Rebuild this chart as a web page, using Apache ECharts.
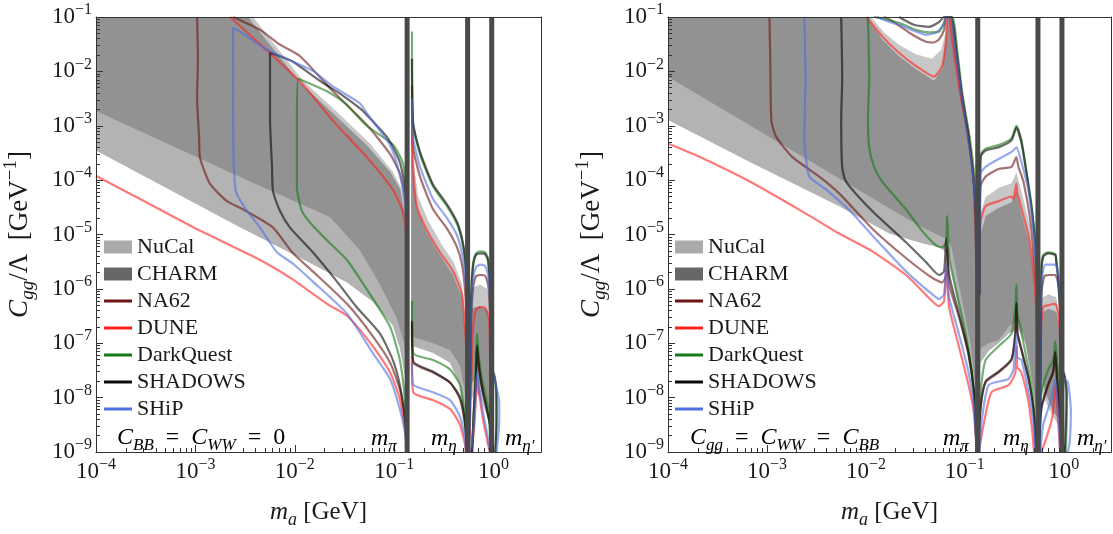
<!DOCTYPE html>
<html><head><meta charset="utf-8">
<script src="https://cdn.jsdelivr.net/npm/echarts@6/dist/echarts.min.js"></script>
<style>html,body{margin:0;padding:0;background:#fff}#c{width:1113px;height:534px}</style>
</head><body><div id="c"></div>
<script>
// ---------- tick values ----------
const X_MAJOR = [1e-4, 1e-3, 1e-2, 1e-1, 1];
const Y_MAJOR = [1e-9, 1e-8, 1e-7, 1e-6, 1e-5, 1e-4, 1e-3, 1e-2, 1e-1];
const MESON_MASSES = [0.135, 0.548, 0.958];
const MESON_LABELS = ['π', 'η', 'η′'];
const NAMES = ['NuCal', 'CHARM', 'NA62', 'DUNE', 'DarkQuest', 'SHADOWS', 'SHiP'];

// ---------- LEFT PANEL (C_BB = C_WW = 0) ----------
const NUCAL_L = [
 [[1e-4,0.1],[3.38e-3,0.1],[1.13e-2,6.2e-3],[2.42e-2,1.7e-3],[5.3e-2,4.4e-4],[9.1e-2,1.42e-4],[0.114,7.0e-5],[0.126,2.7e-5],[0.132,6.3e-6],[0.135,8.0e-7],[0.135,1.26e-8],[0.126,2.9e-8],[0.114,8.1e-8],[9.7e-2,2.1e-7],[6.1e-2,5.8e-7],[3.35e-2,1.31e-6],[1.52e-2,2.8e-6],[2.62e-3,1.45e-5],[1e-4,3.5e-4]],
 [[0.148,1.39e-3],[0.155,1.42e-4],[0.169,2.9e-5],[0.214,1.04e-5],[0.289,4.2e-6],[0.391,1.8e-6],[0.481,7.0e-7],[0.515,1.8e-7],[0.54,4.4e-8],[0.54,2.4e-9],[0.515,4.1e-9],[0.459,1.7e-8],[0.364,4.4e-8],[0.246,6.6e-8],[0.155,8.8e-8],[0.148,8.8e-8]],
 [[0.579,3.5e-7],[0.62,4.5e-7],[0.73,4.8e-7],[0.86,4.1e-7],[0.92,2.3e-7],[0.94,5.5e-9],[0.88,6.7e-9],[0.78,1.26e-8],[0.681,2.3e-8],[0.607,1.9e-8],[0.579,1.26e-8]]
];
const CHARM_L = [
 [[1e-4,0.1],[3.8e-3,0.1],[1.21e-2,6.7e-3],[2.6e-2,1.86e-3],[5.7e-2,4.7e-4],[9.7e-2,1.42e-4],[0.123,6.2e-5],[0.132,1.45e-5],[0.138,8.0e-7],[0.135,2.9e-8],[0.126,1.0e-7],[0.107,2.8e-7],[7.2e-2,1.2e-6],[4.5e-2,5.2e-6],[2.26e-2,2.1e-5],[3.54e-3,9.4e-5],[1e-4,1.86e-3]],
 [[0.148,3.2e-3],[0.155,2.65e-4],[0.174,5.0e-5],[0.219,1.8e-5],[0.296,6.9e-6],[0.40,3.0e-6],[0.481,1.2e-6],[0.515,3.5e-7],[0.54,6.6e-8],[0.552,5.5e-9],[0.527,5.5e-9],[0.515,1.26e-8],[0.459,3.9e-8],[0.364,7.5e-8],[0.246,1.0e-7],[0.148,1.34e-7]],
 [[0.579,8.0e-7],[0.62,1.06e-6],[0.73,1.2e-6],[0.86,1.0e-6],[0.92,5.3e-7],[0.94,2.4e-9],[0.86,4.5e-9],[0.73,1.02e-8],[0.65,1.26e-8],[0.579,8.3e-9]]
];
const NA62_L = [
 [[1.04e-3,0.1],[1.06e-3,1.7e-2],[1.04e-3,3.2e-3],[1.09e-3,6.1e-4],[1.11e-3,2.65e-4],[1.40e-3,8.6e-5],[2.08e-3,4.1e-5],[3.01e-3,2.9e-5],[6.04e-3,1.34e-5],[9.6e-3,4.5e-6],[1.52e-2,2.1e-6],[3.35e-2,5.3e-7],[6.1e-2,1.34e-7],[9.1e-2,4.4e-8],[0.114,1.42e-8],[0.128,4.1e-9],[0.135,1e-9]],
 [[0.135,1e-9],[0.135,6.3e-6],[0.128,5.0e-5],[0.114,1.31e-4],[9.1e-2,3.0e-4],[5.3e-2,1.04e-3],[2.42e-2,4.3e-3],[1.13e-2,1.9e-2],[7.1e-3,3.1e-2],[4.47e-3,5.8e-2],[2.39e-3,0.1]],
 [[0.54,1e-9],[0.515,3.2e-9],[0.459,9.4e-9],[0.364,1.9e-8],[0.246,2.9e-8],[0.155,4.4e-8],[0.151,2.3e-7]],
 [[0.151,5.5e-3],[0.155,4.0e-4],[0.182,1.16e-4],[0.246,2.9e-5],[0.34,1.28e-5],[0.429,5.8e-6],[0.481,2.8e-6],[0.515,9.8e-7],[0.54,1.5e-7],[0.54,1e-9]],
 [[0.565,1e-9],[0.579,1.26e-8],[0.593,2.3e-7],[0.62,9.8e-7],[0.665,1.7e-6],[0.73,1.8e-6],[0.82,1.75e-6],[0.88,1.2e-6],[0.92,3.5e-7],[0.94,1.26e-8],[0.94,1e-9]],
 [[0.607,1e-9],[0.635,6.2e-9],[0.665,2.5e-8],[0.681,8.8e-8],[0.713,3.6e-8],[0.78,1.26e-8],[0.92,3.2e-9],[0.96,1e-9]]
];
const DUNE_L = [
 [[1e-4,1.2e-4],[3.5e-4,3.6e-5],[1.11e-3,1.18e-5],[4.47e-3,3.4e-6],[9.6e-3,1.48e-6],[2.11e-2,5.3e-7],[3.35e-2,3.2e-7],[6.1e-2,8.8e-8],[9.1e-2,2.9e-8],[0.114,9.4e-9],[0.128,2.7e-9],[0.135,1e-9]],
 [[0.135,1e-9],[0.135,6.3e-6],[0.123,2.5e-5],[9.7e-2,6.7e-5],[5.3e-2,2.65e-4],[2.42e-2,1.23e-3],[1.13e-2,6.5e-3],[2.23e-3,0.1]],
 [[0.527,1e-9],[0.515,1.39e-9],[0.459,3.2e-9],[0.364,6.2e-9],[0.246,9.0e-9],[0.155,1.26e-8],[0.151,5.8e-8]],
 [[0.151,2.1e-3],[0.155,1.75e-4],[0.169,3.3e-5],[0.214,1.18e-5],[0.289,4.7e-6],[0.391,2.1e-6],[0.481,8.0e-7],[0.515,2.0e-7],[0.54,4.9e-8],[0.54,1e-9]],
 [[0.565,1e-9],[0.593,1.26e-8],[0.62,1.86e-7],[0.665,4.1e-7],[0.73,4.6e-7],[0.82,4.5e-7],[0.90,2.8e-7],[0.92,6.6e-8],[0.94,5.5e-9],[0.94,1e-9]],
 [[0.593,1e-9],[0.635,2.4e-9],[0.665,1.02e-8],[0.681,2.2e-8],[0.713,1.26e-8],[0.78,4.1e-9],[0.88,1.39e-9],[0.92,1e-9]]
];
const SHIP_L = [
 [[0.135,1e-9],[0.128,2.4e-9],[0.114,6.2e-9],[9.1e-2,2.2e-8],[6.1e-2,6.6e-8],[3.35e-2,3.5e-7],[1.52e-2,1.36e-6],[9.6e-3,2.9e-6],[6.62e-3,4.7e-6],[4.47e-3,1.34e-5],[3.15e-3,3.1e-5],[2.56e-3,6.2e-5],[2.44e-3,1.75e-4],[2.39e-3,3.2e-3],[2.39e-3,6.3e-2],[2.81e-3,5.4e-2],[5.25e-3,2.5e-2],[9.6e-3,1.5e-2],[1.52e-2,1.02e-2],[2.42e-2,5.3e-3],[4.5e-2,2.6e-3],[5.3e-2,1.7e-3],[9.1e-2,4.4e-4],[0.114,1.26e-4],[0.128,3.8e-5],[0.135,6.3e-6],[0.135,1e-9]],
 [[0.527,1e-9],[0.515,1.79e-9],[0.459,4.5e-9],[0.364,9.0e-9],[0.246,1.26e-8],[0.155,1.75e-8],[0.151,4.4e-8]],
 [[0.151,3.2e-3],[0.155,6.1e-4],[0.182,1.75e-4],[0.246,4.5e-5],[0.34,2.0e-5],[0.429,9.6e-6],[0.481,4.5e-6],[0.515,1.8e-6],[0.54,3.5e-7],[0.54,1e-9]],
 [[0.565,1e-9],[0.579,1.26e-8],[0.593,3.5e-7],[0.62,1.48e-6],[0.665,2.5e-6],[0.73,2.8e-6],[0.82,2.65e-6],[0.88,1.8e-6],[0.92,5.3e-7],[0.94,1.26e-8],[0.94,1e-9]],
 [[0.593,1e-9],[0.635,3.6e-9],[0.665,1.55e-8],[0.681,2.9e-8],[0.713,1.55e-8],[0.78,5.5e-9],[0.88,1.79e-9],[0.92,1e-9]],
 [[0.96,2.0e-8],[0.985,2.9e-8],[1.07,1.55e-8],[1.14,8.3e-9],[1.14,3.6e-9],[1.10,1.58e-9],[1.07,1e-9]]
];
const SHADOWS_L = [
 [[0.135,1e-9],[0.128,4.1e-9],[0.114,1.7e-8],[9.7e-2,4.9e-8],[7.2e-2,1.5e-7],[4.2e-2,4.6e-7],[2.66e-2,1.36e-6],[1.52e-2,4.7e-6],[8.95e-3,1.34e-5],[7.1e-3,2.7e-5],[6.04e-3,6.2e-5],[5.9e-3,1.75e-4],[5.63e-3,1.39e-3],[5.63e-3,2.2e-2],[7.1e-3,1.9e-2],[9.6e-3,1.5e-2],[1.79e-2,6.7e-3],[2.85e-2,3.9e-3],[4.5e-2,2.1e-3],[5.3e-2,1.58e-3],[8.5e-2,6.1e-4],[0.114,2.15e-4],[0.132,5.0e-5],[0.135,6.3e-6],[0.135,1e-9]],
 [[0.54,1e-9],[0.515,3.6e-9],[0.459,1.02e-8],[0.364,1.9e-8],[0.246,3.0e-8],[0.155,4.7e-8],[0.151,2.6e-7]],
 [[0.151,1.7e-2],[0.155,1.13e-3],[0.182,3.3e-4],[0.246,8.3e-5],[0.34,3.6e-5],[0.429,1.7e-5],[0.481,8.5e-6],[0.515,3.9e-6],[0.54,8.0e-7],[0.54,1e-9]],
 [[0.565,1e-9],[0.579,1.26e-8],[0.593,5.3e-7],[0.62,2.5e-6],[0.665,4.2e-6],[0.73,4.5e-6],[0.82,4.36e-6],[0.88,3.27e-6],[0.92,8.0e-7],[0.94,1.26e-8],[0.94,1e-9]],
 [[0.607,1e-9],[0.635,6.4e-9],[0.665,2.6e-8],[0.681,9.2e-8],[0.713,3.7e-8],[0.78,1.3e-8],[0.92,3.3e-9],[0.96,1e-9]],
 [[0.96,2.5e-8],[1.0,2.9e-8],[1.07,1.26e-8],[1.07,3.2e-9],[1.04,1e-9]]
];
const DQ_L = [
 [[0.135,1e-9],[0.128,9.4e-9],[0.114,4.9e-8],[9.1e-2,2.0e-7],[5.7e-2,8.0e-7],[3.35e-2,3.4e-6],[2.26e-2,6.9e-6],[1.52e-2,1.45e-5],[1.18e-2,2.7e-5],[1.05e-2,7.6e-5],[1.05e-2,9.2e-4],[1.08e-2,7.3e-3],[2.11e-2,4.3e-3],[3.2e-2,2.6e-3],[5.3e-2,1.0e-3],[9.7e-2,4.5e-4],[0.123,2.0e-4],[0.132,5.0e-5],[0.135,6.3e-6],[0.135,1e-9]],
 [[0.54,1e-9],[0.515,4.1e-9],[0.459,1.7e-8],[0.364,3.3e-8],[0.246,4.9e-8],[0.155,6.6e-8],[0.151,6.0e-7]],
 [[0.151,5.4e-2],[0.155,1.04e-3],[0.182,3.0e-4],[0.246,7.6e-5],[0.34,3.3e-5],[0.429,1.55e-5],[0.481,7.8e-6],[0.515,3.4e-6],[0.54,8.0e-7],[0.54,1e-9]],
 [[0.565,1e-9],[0.579,1.26e-8],[0.593,6.0e-7],[0.62,2.8e-6],[0.665,4.5e-6],[0.73,4.9e-6],[0.82,4.7e-6],[0.88,3.6e-6],[0.92,9.0e-7],[0.94,1.4e-8],[0.94,1e-9]],
 [[0.607,1e-9],[0.635,5.5e-9],[0.665,4.4e-8],[0.681,1.5e-7],[0.713,5.4e-8],[0.764,2.2e-8],[0.88,6.2e-9],[0.94,1e-9]],
 [[0.96,2.7e-8],[0.985,2.9e-8],[1.05,1.7e-8],[1.07,5e-9],[1.05,1e-9]]
];

// ---------- RIGHT PANEL (C_gg = C_WW = C_BB) ----------
const NUCAL_R = [
 [[1e-4,0.1],[1.02e-2,0.1],[1.46e-2,3.9e-2],[2.16e-2,1.9e-2],[3.2e-2,1.1e-2],[4.88e-2,6.7e-3],[5.9e-2,1.1e-2],[6.47e-2,3.9e-2],[6.62e-2,0.1],[7.1e-2,0.1],[8.7e-2,5.3e-3],[0.109,6.1e-4],[0.126,5.0e-5],[0.132,8.0e-7],[0.132,2.4e-9],[0.126,8.3e-9],[0.109,5.4e-8],[8.7e-2,4.3e-7],[6.94e-2,3.9e-6],[6.47e-2,4.7e-6],[5.5e-2,5.8e-6],[3.68e-2,6.9e-6],[1.72e-2,1.04e-5],[5.37e-3,3.3e-5],[6.7e-4,2.15e-4],[1e-4,1.28e-3]],
 [[0.141,8.5e-6],[0.162,2.2e-5],[0.219,3.06e-5],[0.296,3.9e-5],[0.332,6.2e-5],[0.373,2.4e-5],[0.44,7.8e-6],[0.492,2.0e-6],[0.527,3.5e-7],[0.54,1.26e-8],[0.552,2.4e-9],[0.515,6.7e-9],[0.47,2.3e-8],[0.41,1.0e-7],[0.348,1.8e-7],[0.276,1.5e-7],[0.219,1.0e-7],[0.174,7.2e-8],[0.144,4.4e-8],[0.141,1.26e-8]],
 [[0.579,3.5e-7],[0.697,4.3e-7],[0.84,3.8e-7],[0.92,1.5e-7],[0.94,3.6e-9],[0.78,5.5e-9],[0.65,1.26e-8],[0.579,2.9e-8]]
];
const CHARM_R = [
 [[1e-4,0.1],[1.13e-2,0.1],[1.52e-2,5.2e-2],[2.16e-2,3.1e-2],[3.2e-2,2.07e-2],[4.66e-2,1.7e-2],[5.76e-2,2.5e-2],[6.47e-2,5.8e-2],[6.62e-2,0.1],[7.5e-2,0.1],[9.3e-2,6.0e-3],[0.114,6.1e-4],[0.128,5.0e-5],[0.135,8.0e-7],[0.135,5.5e-9],[0.128,1.55e-8],[0.114,1.0e-7],[9.1e-2,8.0e-7],[7.27e-2,6.3e-6],[6.47e-2,8.5e-6],[5.5e-2,9.6e-6],[3.43e-2,1.45e-5],[1e-4,8.0e-3]],
 [[0.141,1.8e-5],[0.144,2.5e-5],[0.162,4.9e-5],[0.219,7.2e-5],[0.296,8.8e-5],[0.332,1.39e-4],[0.38,5.5e-5],[0.45,1.58e-5],[0.50,3.6e-6],[0.54,4.8e-7],[0.552,3.6e-9],[0.50,1.26e-8],[0.44,5.4e-8],[0.391,1.5e-7],[0.332,2.6e-7],[0.276,2.0e-7],[0.219,1.13e-7],[0.174,1.0e-7],[0.144,8.1e-8],[0.141,2.9e-8]],
 [[0.579,6.5e-7],[0.697,8.0e-7],[0.84,7.0e-7],[0.92,2.3e-7],[0.96,2.4e-9],[0.78,4.5e-9],[0.62,1.02e-8],[0.565,2.3e-8]]
];
const NA62_R = [
 [[1.06e-3,0.1],[1.08e-3,1.7e-2],[1.11e-3,1.23e-3],[1.25e-3,6.1e-4],[1.81e-3,2.65e-4],[3.38e-3,1.16e-4],[5.37e-3,5.7e-5],[1.16e-2,1.28e-5],[2.54e-2,3.7e-6],[4.66e-2,1.6e-6],[5.9e-2,1.31e-6],[6.47e-2,1.8e-6],[6.62e-2,5.6e-6],[6.94e-2,1.2e-6],[8.7e-2,3.1e-7],[0.109,6.0e-8],[0.123,1.26e-8],[0.132,1e-9]],
 [[1.52e-2,0.1],[1.84e-2,8.5e-2],[2.72e-2,5.2e-2],[4.05e-2,3.5e-2],[4.88e-2,3.4e-2],[5.5e-2,3.9e-2],[6.17e-2,5.8e-2],[6.47e-2,0.1],[7.1e-2,0.1],[8.2e-2,1.7e-2],[9.3e-2,3.2e-3],[0.109,6.1e-4],[0.123,9.4e-5],[0.128,1.28e-5],[0.132,8.0e-7],[0.132,1e-9]],
 [[0.141,8.0e-7],[0.144,7.6e-5],[0.162,1.16e-4],[0.219,1.6e-4],[0.296,1.75e-4],[0.332,2.65e-4],[0.348,1.75e-4],[0.391,9.4e-5],[0.459,1.8e-5],[0.50,3.4e-6],[0.54,3.5e-7],[0.552,1e-9]],
 [[0.138,1e-9],[0.144,6.2e-9],[0.162,1.9e-8],[0.219,2.9e-8],[0.296,4.9e-8],[0.324,1.5e-7],[0.332,5.3e-7],[0.34,1.5e-7],[0.373,7.5e-8],[0.44,2.2e-8],[0.492,6.2e-9],[0.527,1e-9]],
 [[0.565,1e-9],[0.579,1.26e-8],[0.593,8.0e-7],[0.635,1.7e-6],[0.697,1.8e-6],[0.82,1.8e-6],[0.88,1.2e-6],[0.92,2.3e-7],[0.94,1e-9]],
 [[0.565,1e-9],[0.593,6.2e-9],[0.697,1.7e-8],[0.78,2.9e-8],[0.82,6.6e-8],[0.86,1.7e-8],[0.92,3.6e-9],[0.94,1e-9]]
];
const DUNE_R = [
 [[1e-4,4.7e-4],[2.1e-4,2.65e-4],[6.7e-4,9.4e-5],[2.5e-3,2.4e-5],[5.37e-3,1.04e-5],[1.16e-2,4.9e-6],[2.54e-2,1.8e-6],[4.66e-2,6.0e-7],[5.5e-2,4.8e-7],[6.17e-2,6.0e-7],[6.47e-2,2.4e-6],[6.94e-2,4.6e-7],[8.7e-2,8.8e-8],[0.109,1.7e-8],[0.123,5.5e-9],[0.132,1e-9]],
 [[1.02e-2,0.1],[1.46e-2,4.4e-2],[2.16e-2,2.2e-2],[3.2e-2,1.26e-2],[4.88e-2,8.0e-3],[5.9e-2,1.26e-2],[6.47e-2,3.9e-2],[6.62e-2,0.1],[6.94e-2,0.1],[7.27e-2,5.2e-2],[8.7e-2,5.5e-3],[0.105,8.1e-4],[0.123,1.02e-4],[0.132,1.28e-5],[0.132,1e-9]],
 [[0.141,8.0e-7],[0.144,1.64e-5],[0.162,3.3e-5],[0.219,4.1e-5],[0.296,5.0e-5],[0.31,4.5e-5],[0.324,7.0e-5],[0.332,8.6e-5],[0.34,5.5e-5],[0.348,5.0e-5],[0.373,3.06e-5],[0.44,9.6e-6],[0.492,2.2e-6],[0.527,3.9e-7],[0.552,1.26e-8],[0.552,1e-9]],
 [[0.138,1e-9],[0.155,3.2e-9],[0.186,1.26e-8],[0.276,1.7e-8],[0.324,2.9e-8],[0.332,8.8e-8],[0.34,3.6e-8],[0.373,2.9e-8],[0.44,8.3e-9],[0.48,2.4e-9],[0.50,1e-9]],
 [[0.565,1e-9],[0.579,1.26e-8],[0.593,2.3e-7],[0.62,4.6e-7],[0.697,5.0e-7],[0.82,5.3e-7],[0.88,3.5e-7],[0.92,1.0e-7],[0.94,1e-9]],
 [[0.593,1e-9],[0.65,1.58e-9],[0.747,3.6e-9],[0.78,5.5e-9],[0.82,1.7e-8],[0.86,6.7e-9],[0.88,3.2e-9],[0.92,1e-9]]
];
const SHIP_R = [
 [[2.39e-3,0.1],[2.45e-3,7.3e-3],[2.39e-3,6.1e-4],[2.45e-3,3.0e-4],[2.68e-3,1.16e-4],[3.98e-3,6.7e-5],[7.25e-3,2.5e-5],[1.16e-2,9.6e-6],[2.54e-2,2.1e-6],[4.66e-2,8.0e-7],[5.5e-2,6.5e-7],[6.17e-2,8.0e-7],[6.47e-2,2.8e-6],[6.94e-2,7.0e-7],[8.7e-2,1.5e-7],[0.109,2.9e-8],[0.123,7.3e-9],[0.132,1e-9]],
 [[1.3e-2,0.1],[1.72e-2,8.1e-2],[2.16e-2,7.2e-2],[3.2e-2,5.4e-2],[4.05e-2,4.7e-2],[5.12e-2,5.2e-2],[6.03e-2,7.2e-2],[6.47e-2,0.1],[7.1e-2,0.1],[8.2e-2,1.9e-2],[9.3e-2,3.5e-3],[0.107,6.1e-4],[0.123,9.4e-5],[0.132,1.18e-5],[0.132,1e-9]],
 [[0.141,8e-7],[0.144,1.31e-4],[0.162,1.75e-4],[0.219,2.44e-4],[0.296,3.3e-4],[0.332,4.0e-4],[0.373,2.15e-4],[0.44,6.2e-5],[0.492,1.18e-5],[0.527,1.8e-6],[0.552,1e-9]],
 [[0.141,1e-9],[0.148,3.6e-9],[0.174,1.7e-8],[0.276,2.2e-8],[0.31,3.3e-8],[0.332,1.5e-7],[0.34,5.4e-8],[0.373,5.0e-8],[0.44,1.26e-8],[0.492,3.6e-9],[0.515,1e-9]],
 [[0.565,1e-9],[0.579,1.26e-8],[0.593,1.2e-6],[0.65,2.8e-6],[0.82,2.8e-6],[0.88,1.8e-6],[0.92,3.5e-7],[0.94,1e-9]],
 [[0.579,1e-9],[0.62,3.2e-9],[0.747,9.4e-9],[0.82,2.2e-8],[0.86,8.3e-9],[0.90,2.4e-9],[0.92,1e-9]],
 [[0.96,2.0e-8],[0.985,2.3e-8],[1.10,1.9e-8],[1.18,5.5e-9],[1.15,1.58e-9],[1.10,1e-9]]
];
const SHADOWS_R = [
 [[5.63e-3,0.1],[5.76e-3,7.3e-3],[5.63e-3,1.39e-3],[5.76e-3,1.75e-4],[6.3e-3,9.4e-5],[1.16e-2,2.7e-5],[2.54e-2,7.2e-6],[4.05e-2,3.1e-6],[5.5e-2,1.8e-6],[6.17e-2,2.1e-6],[6.47e-2,8.5e-6],[6.94e-2,1.8e-6],[8.7e-2,3.5e-7],[0.109,6.6e-8],[0.123,1.42e-8],[0.132,1e-9]],
 [[2.16e-2,0.1],[3.05e-2,7.2e-2],[4.34e-2,6.6e-2],[5.5e-2,8.1e-2],[6.17e-2,0.1],[7.27e-2,0.1],[8.3e-2,2.07e-2],[9.3e-2,3.9e-3],[0.109,6.1e-4],[0.123,9.4e-5],[0.132,1.18e-5],[0.135,1e-9]],
 [[0.141,8e-7],[0.144,2.65e-4],[0.162,3.5e-4],[0.219,4.0e-4],[0.296,5.4e-4],[0.332,9.2e-4],[0.373,4.9e-4],[0.41,1.75e-4],[0.47,3.3e-5],[0.515,6.3e-6],[0.54,8.0e-7],[0.552,1e-9]],
 [[0.138,1e-9],[0.144,6.5e-9],[0.162,2.0e-8],[0.219,3.0e-8],[0.296,5.1e-8],[0.324,1.6e-7],[0.332,5.6e-7],[0.34,1.6e-7],[0.373,7.8e-8],[0.44,2.3e-8],[0.492,6.5e-9],[0.527,1e-9]],
 [[0.565,1e-9],[0.579,1.26e-8],[0.593,1.8e-6],[0.62,3.9e-6],[0.697,4.5e-6],[0.82,4.2e-6],[0.84,3.1e-6],[0.88,1.48e-6],[0.92,3.5e-7],[0.94,1e-9]],
 [[0.565,1e-9],[0.593,6.5e-9],[0.697,1.8e-8],[0.78,3.0e-8],[0.82,7.0e-8],[0.86,1.8e-8],[0.92,3.8e-9],[0.94,1e-9]],
 [[0.96,2.6e-8],[1.0,2.9e-8],[1.07,1.26e-8],[1.05,3.2e-9],[1.02,1e-9]]
];
const DQ_R = [
 [[1.05e-2,0.1],[1.08e-2,7.3e-3],[1.05e-2,1.39e-3],[1.08e-2,4.0e-4],[1.21e-2,1.75e-4],[1.46e-2,9.4e-5],[2.54e-2,2.9e-5],[3.68e-2,1.18e-5],[5.12e-2,6.3e-6],[5.9e-2,5.8e-6],[6.47e-2,7.2e-6],[6.62e-2,2.2e-5],[6.94e-2,3.7e-6],[8.2e-2,9.0e-7],[0.102,1.5e-7],[0.117,2.9e-8],[0.126,7.3e-9],[0.132,1e-9]],
 [[1.21e-2,0.1],[2.16e-2,7.8e-2],[3.2e-2,5.8e-2],[4.34e-2,5.2e-2],[5.5e-2,5.4e-2],[6.17e-2,7.8e-2],[6.47e-2,0.1],[7.5e-2,0.1],[8.5e-2,1.9e-2],[9.5e-2,3.5e-3],[0.112,6.1e-4],[0.126,9.4e-5],[0.132,1.18e-5],[0.135,1e-9]],
 [[0.141,8e-7],[0.144,2.9e-4],[0.162,3.8e-4],[0.219,4.4e-4],[0.296,5.9e-4],[0.332,1.0e-3],[0.373,5.4e-4],[0.41,1.9e-4],[0.47,3.6e-5],[0.515,6.9e-6],[0.54,8.7e-7],[0.552,1e-9]],
 [[0.138,1e-9],[0.144,1.26e-8],[0.162,4.9e-8],[0.219,8.8e-8],[0.296,1.5e-7],[0.324,4.6e-7],[0.332,1.2e-6],[0.34,3.5e-7],[0.364,2.0e-7],[0.41,6.6e-8],[0.47,1.7e-8],[0.515,3.2e-9],[0.527,1e-9]],
 [[0.565,1e-9],[0.579,1.26e-8],[0.593,2.2e-6],[0.62,4.2e-6],[0.697,4.7e-6],[0.82,4.4e-6],[0.84,3.3e-6],[0.88,1.6e-6],[0.92,3.8e-7],[0.94,1e-9]],
 [[0.565,1e-9],[0.593,1.26e-8],[0.697,3.3e-8],[0.78,4.9e-8],[0.82,1.09e-7],[0.86,3.6e-8],[0.88,2.5e-8],[0.92,6.2e-9],[0.94,1e-9]],
 [[0.96,2.7e-8],[0.985,2.9e-8],[1.05,1.55e-8],[1.07,5.5e-9],[1.05,1e-9]]
];

// ---------- styling ----------
const SERIF = "'Liberation Serif', 'DejaVu Serif', serif";
const TXT = '#1a1a1a';
const COLORS = { NuCal:'#b3b3b3', CHARM:'rgba(70,70,70,0.30)', NA62:'#6b1515', DUNE:'#ff2020', DarkQuest:'#157a15', SHADOWS:'#0a0a0a', SHiP:'#4f6ee0' };
const LEGEND_PATCH = { NuCal:'#aaaaaa', CHARM:'#666666' };
const LINE_ICON = 'path://M0,0 L28,0 L28,3 L0,3 Z';

const panels = [
  { fills:{NuCal:NUCAL_L, CHARM:CHARM_L}, lines:{NA62:NA62_L, DUNE:DUNE_L, DarkQuest:DQ_L, SHADOWS:SHADOWS_L, SHiP:SHIP_L},
    grid:{left:96, top:17, width:445, height:444}, legendLeft:104,
    note:'{i|C}{s|BB}{n|  =  }{i|C}{s|WW}{n|  =  0}', noteLeft:117,
    mLabelLeft:[371, 431, 505] },
  { fills:{NuCal:NUCAL_R, CHARM:CHARM_R}, lines:{NA62:NA62_R, DUNE:DUNE_R, DarkQuest:DQ_R, SHADOWS:SHADOWS_R, SHiP:SHIP_R},
    grid:{left:668, top:17, width:443, height:444}, legendLeft:675,
    note:'{i|C}{s|gg}{n|  =  }{i|C}{s|WW}{n|  =  }{i|C}{s|BB}', noteLeft:690,
    mLabelLeft:[943, 1003, 1077] }
];

function minorValues(lo, hi) {
  const out = [];
  for (let d = lo; d <= hi; d++) for (let k = 2; k <= 9; k++) out.push(+(k * Math.pow(10, d)).toPrecision(3));
  return out;
}
const X_MINOR = minorValues(-4, 0).filter(v => v <= 3);
const Y_MINOR = minorValues(-9, -2);

function powLabel(v) {
  const e = Math.round(Math.log10(v));
  return '{b|10}{s|' + (e < 0 ? '−' + (-e) : String(e)) + '}';
}
const tickRich = {
  b: { fontFamily: SERIF, fontSize: 23, color: TXT, lineHeight: 30, verticalAlign: 'middle' },
  s: { fontFamily: SERIF, fontSize: 16, color: TXT, lineHeight: 16, verticalAlign: 'top' }
};
function mathRich(size) {
  const sub = Math.round(size * 0.7);
  return {
    i: { fontFamily: SERIF, fontStyle: 'italic', fontSize: size, color: TXT, lineHeight: size + 8, verticalAlign: 'middle' },
    n: { fontFamily: SERIF, fontSize: size, color: TXT, lineHeight: size + 8, verticalAlign: 'middle' },
    s: { fontFamily: SERIF, fontStyle: 'italic', fontSize: sub, color: TXT, lineHeight: sub, verticalAlign: 'bottom' },
    p: { fontFamily: SERIF, fontSize: sub, color: TXT, lineHeight: sub, verticalAlign: 'top' }
  };
}
const AX = '#333';

const grids = [], xAxes = [], yAxes = [], series = [], legends = [], graphics = [];
panels.forEach((P, g) => {
  grids.push(Object.assign({ show: false }, P.grid));
  const base = { type: 'log', logBase: 10, gridIndex: g, z: 8, splitLine: { show: false }, minorTick: { show: false }, minorSplitLine: { show: false } };
  xAxes.push(Object.assign({}, base, {
    min: 1e-4, max: 3, position: 'bottom',
    axisLine: { show: true, onZero: false, lineStyle: { color: AX, width: 1 } },
    axisTick: { show: true, inside: true, length: 7, customValues: X_MAJOR, lineStyle: { color: AX } },
    axisLabel: { customValues: X_MAJOR, formatter: powLabel, margin: 5, rich: tickRich },
    name: '{i|m}{s|a}{n| [GeV]}', nameLocation: 'middle', nameGap: 44, nameTextStyle: { rich: mathRich(25) }
  }));
  xAxes.push(Object.assign({}, base, {
    min: 1e-4, max: 3, position: 'bottom',
    axisLine: { show: false }, axisLabel: { show: false },
    axisTick: { show: true, inside: true, length: 4, customValues: X_MINOR, lineStyle: { color: AX } }
  }));
  xAxes.push(Object.assign({}, base, {
    min: 1e-4, max: 3, position: 'top',
    axisLine: { show: true, onZero: false, lineStyle: { color: AX, width: 1 } },
    axisTick: { show: false }, axisLabel: { show: false }
  }));
  yAxes.push(Object.assign({}, base, {
    min: 1e-9, max: 0.1, position: 'left',
    axisLine: { show: true, onZero: false, lineStyle: { color: AX, width: 1 } },
    axisTick: { show: true, inside: true, length: 7, customValues: Y_MAJOR, lineStyle: { color: AX } },
    axisLabel: { customValues: Y_MAJOR, formatter: powLabel, margin: 4, rich: tickRich },
    name: '{i|C}{s|gg}{n|/Λ  [GeV}{p|−1}{n|]}', nameLocation: 'middle', nameGap: 59, nameTextStyle: { rich: mathRich(27) }
  }));
  yAxes.push(Object.assign({}, base, {
    min: 1e-9, max: 0.1, position: 'left',
    axisLine: { show: false }, axisLabel: { show: false },
    axisTick: { show: true, inside: true, length: 4, customValues: Y_MINOR, lineStyle: { color: AX } }
  }));
  yAxes.push(Object.assign({}, base, {
    min: 1e-9, max: 0.1, position: 'right',
    axisLine: { show: true, onZero: false, lineStyle: { color: AX, width: 1 } },
    axisTick: { show: false }, axisLabel: { show: false }
  }));
  const xi = g * 3, yi = g * 3;
  // filled regions: each polygon is its own custom series with a single item
  ['NuCal', 'CHARM'].forEach(name => {
    P.fills[name].forEach(poly => {
      series.push({
        type: 'custom', name, coordinateSystem: 'cartesian2d', xAxisIndex: xi, yAxisIndex: yi,
        data: [{ value: poly[Math.floor(poly.length / 2)] }], silent: true, animation: false, z: 1, clip: false,
        itemStyle: { color: LEGEND_PATCH[name] },
        renderItem: (params, api) => ({
          type: 'group',
          children: [{ type: 'polygon', shape: { points: poly.map(p => api.coord(p)) }, style: { fill: COLORS[name] } }]
        })
      });
    });
  });
  // sensitivity contours
  Object.keys(P.lines).forEach(name => {
    P.lines[name].forEach(seg => {
      series.push({
        type: 'line', name, xAxisIndex: xi, yAxisIndex: yi, data: seg,
        symbol: 'none', showSymbol: false, smooth: 0.2, clip: true, silent: true, animation: false, z: 3,
        lineStyle: { color: COLORS[name], width: 2.2, opacity: 0.6 }, itemStyle: { color: COLORS[name] }
      });
    });
  });
  // meson mass lines
  MESON_MASSES.forEach(m => {
    series.push({
      type: 'line', name: 'meson', xAxisIndex: xi, yAxisIndex: yi, data: [[m, 1e-9], [m, 0.1]],
      symbol: 'none', silent: true, animation: false, z: 5, lineStyle: { color: '#4a4a4a', width: 5 }
    });
  });
  legends.push({
    left: P.legendLeft, top: 236, orient: 'vertical', padding: 0, itemGap: 5, itemWidth: 28, itemHeight: 13,
    selectedMode: false, symbolKeepAspect: true,
    textStyle: { fontFamily: SERIF, fontSize: 22, color: TXT, lineHeight: 18 },
    data: NAMES.map(n => LEGEND_PATCH[n]
      ? { name: n, icon: 'rect', itemStyle: { color: LEGEND_PATCH[n], opacity: 1 } }
      : { name: n, icon: LINE_ICON, itemStyle: { color: COLORS[n], opacity: 1, borderWidth: 0 } })
  });
  graphics.push({ type: 'text', left: P.noteLeft, top: 426, z: 20, style: { text: P.note, rich: mathRich(24) } });
  MESON_LABELS.forEach((lab, k) => {
    graphics.push({ type: 'text', left: P.mLabelLeft[k], top: 427, z: 20, style: { text: '{i|m}{s|' + lab + '}', rich: mathRich(24) } });
  });
});

const chart = echarts.init(document.getElementById('c'), null, { renderer: 'canvas' });
chart.setOption({
  backgroundColor: '#ffffff',
  animation: false,
  grid: grids, xAxis: xAxes, yAxis: yAxes,
  legend: legends, series: series, graphic: graphics
});
</script></body></html>
